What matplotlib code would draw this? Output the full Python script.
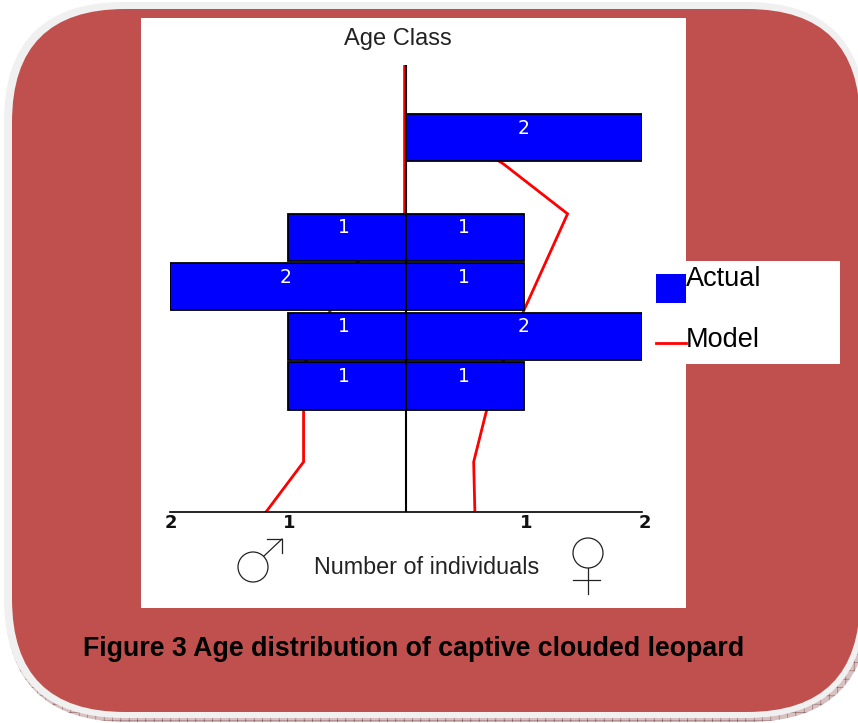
import matplotlib
matplotlib.use("Agg")
import matplotlib.pyplot as plt
from matplotlib.patches import FancyBboxPatch, Circle, Rectangle
from matplotlib.lines import Line2D
from matplotlib.transforms import ScaledTranslation

W, H = 858, 723
# ---- data ----
age_classes = [2, 3, 4, 5, 7]
male_counts = [1, 1, 2, 1, 0]
female_counts = [1, 2, 1, 1, 2]
model_age_m = [0, 1, 2, 3, 4, 5, 6, 7, 8, 9]
model_male = [1.18, 0.865, 0.865, 0.85, 0.65, 0.42, 0.01, 0.01, 0.01, 0.01]
model_age_f = [0, 1, 2, 3, 4, 5, 6, 7, 7.5]
model_female = [0.585, 0.575, 0.68, 0.82, 0.99, 1.18, 1.37, 0.83, 0.5]
x_ticks = [-2, -1, 1, 2]
x_tick_labels = ["2", "1", "1", "2"]
title = "Figure 3 Age distribution of captive clouded leopard"

plt.rcParams["hatch.linewidth"] = 0.4
fig = plt.figure(figsize=(W / 100, H / 100), dpi=100, facecolor="white")

# page layer in pixel coordinates
bg = fig.add_axes([0, 0, 1, 1], zorder=0)
bg.set_xlim(0, W); bg.set_ylim(H, 0); bg.axis("off")

def rrect(x0, y0, x1, y1, r, **kw):
    p = FancyBboxPatch((x0 + r, y0 + r), x1 - x0 - 2 * r, y1 - y0 - 2 * r,
                       boxstyle=f"round,pad={r},rounding_size={r}", linewidth=0, **kw)
    bg.add_patch(p)

rrect(5, 300, 870, 722, 122, facecolor="#d8c0c0", edgecolor="#8a5f5f", hatch="++", zorder=1)
rrect(4, 2, 866, 718, 120, facecolor="#f0f0f0", zorder=2)
rrect(12, 9, 860, 712, 113, facecolor="#c0504d", zorder=3)
bg.add_patch(Rectangle((141, 18), 545, 590, facecolor="white", linewidth=0, zorder=4))
bg.add_patch(Rectangle((686, 261), 154, 103, facecolor="white", linewidth=0, zorder=4))
bg.add_patch(Rectangle((656, 274), 30, 29, facecolor="#0000ff", linewidth=0, zorder=5))
bg.add_line(Line2D([656, 686], [343, 343], color="#ff0000", lw=2.0, zorder=5))
bg.text(686, 279, "Actual", family="Liberation Sans", fontsize=19.5, va="center", ha="left", color="black", zorder=6)
bg.text(686, 340, "Model", family="Liberation Sans", fontsize=19.5, va="center", ha="left", color="black", zorder=6)
bg.text(83, 649, title, family="Liberation Sans", fontweight="bold", fontsize=19.25, va="center", ha="left", color="black", zorder=6)

# sex symbols
sym = dict(color="#222222", lw=0.9, zorder=6)
bg.add_patch(Circle((253, 567), 15, fill=False, ec="#222222", lw=0.9, zorder=6))
bg.add_line(Line2D([264, 282], [556, 539], **sym))
bg.add_line(Line2D([267, 282, 282], [539, 539, 553], **sym))
bg.add_patch(Circle((588, 553), 15, fill=False, ec="#222222", lw=0.9, zorder=6))
bg.add_line(Line2D([588, 588], [568, 594], **sym))
bg.add_line(Line2D([573, 600], [580, 580], **sym))

# pyramid, axes placed so that x=-2..2 spans px 169.5..642 and y=0..9 spans px 511.5..65
ax = fig.add_axes([169.5 / W, 1 - 511.5 / H, 472.5 / W, 446.5 / H], zorder=2)
ax.set_xlim(-2, 2); ax.set_ylim(0, 9)
ax.patch.set_alpha(0)
for side in ("top", "left", "right"):
    ax.spines[side].set_visible(False)
ax.spines["bottom"].set_linewidth(1.2)
ax.spines["bottom"].set_color("black")
ax.set_yticks([])
ax.set_xticks(x_ticks)
ax.set_xticklabels(x_tick_labels, family="DejaVu Sans", fontweight="bold", fontsize=13, color="#111111")
ax.tick_params(axis="x", length=0, pad=1.5)
for lab, dx in zip(ax.get_xticklabels(), [1, 2, 2, 3]):
    lab.set_transform(lab.get_transform() + ScaledTranslation(dx / 100, 0, fig.dpi_scale_trans))

ax.plot([-v for v in model_male], model_age_m, color="#ff0000", lw=2.0, zorder=2, solid_joinstyle="miter")
ax.plot(model_female, model_age_f, color="#ff0000", lw=2.0, zorder=2, solid_joinstyle="miter")
centers = [a + 0.53 for a in age_classes]
ax.barh(centers, [-m for m in male_counts], height=0.95, color="#0000ff", edgecolor="black", linewidth=1.3, zorder=3)
ax.barh(centers, female_counts, height=0.95, color="#0000ff", edgecolor="black", linewidth=1.3, zorder=3)
ax.axvline(0, color="black", lw=1.5, zorder=4)

for c, m, f in zip(centers, male_counts, female_counts):
    if m:
        ax.text(-m / 2 - 0.02, c + 0.19, str(m), color="#fffff0", fontsize=13.5, ha="center", va="center",
                family="DejaVu Sans", zorder=5)
    if f:
        ax.text(f / 2 - 0.005, c + 0.19, str(f), color="#fffff0", fontsize=13.5, ha="center", va="center",
                family="DejaVu Sans", zorder=5)

bg.text(398, 39, "Age Class", family="Liberation Sans", fontsize=17, color="#222222", ha="center", va="center", zorder=6)
bg.text(427, 568, "Number of individuals", family="Liberation Sans", fontsize=16.8, color="#222222", ha="center", va="center", zorder=6)

fig.savefig("out.png", dpi=100)
